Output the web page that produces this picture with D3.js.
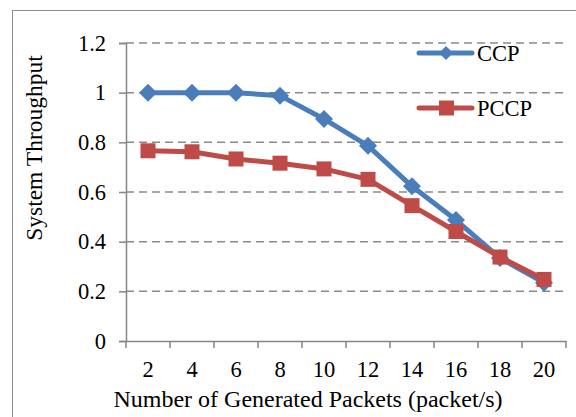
<!DOCTYPE html>
<html><head><meta charset="utf-8">
<script src="https://cdn.jsdelivr.net/npm/d3@7"></script>
<style>
html,body{margin:0;padding:0;background:#fff;}
svg{display:block;}
svg text{font-family:"Liberation Serif","Times New Roman",serif !important;fill:#000;}
</style></head>
<body>
<svg id="c" width="576" height="417"></svg>
<script>
const categories = [2,4,6,8,10,12,14,16,18,20];
const ccp  = [1.0,1.0,1.0,0.988,0.894,0.786,0.623,0.487,0.334,0.235];
const pccp = [0.766,0.762,0.733,0.716,0.693,0.651,0.545,0.441,0.338,0.248];
const yTicks = [0,0.2,0.4,0.6,0.8,1,1.2];
const seriesNames = ["CCP","PCCP"];
const colors = ["#4A7EBB","#BE4B48"];

const svg = d3.select("#c");
const L=126, R=566, T=43, B=341;

// outer frame
svg.append("rect").attr("x",12.5).attr("y",10.5).attr("width",600).attr("height",420)
  .attr("fill","none").attr("stroke","#8c8c8c").attr("stroke-width",1);

const x = d3.scaleBand().domain(categories).range([L,R]);
const y = d3.scaleLinear().domain([0,1.2]).range([B,T]);

// gridlines
svg.append("g").selectAll("line").data(yTicks.filter(d=>d>0)).join("line")
  .attr("x1",L).attr("x2",R).attr("y1",d=>y(d)).attr("y2",d=>y(d))
  .attr("stroke","#8a8a8a").attr("stroke-width",1.5).attr("stroke-dasharray","8,5");

// y axis
const ya = svg.append("g").attr("transform",`translate(${L},0)`)
  .call(d3.axisLeft(y).tickValues(yTicks).tickFormat(d=>String(d)).tickSize(7).tickPadding(13));
ya.select(".domain").attr("stroke","#868686").attr("stroke-width",1.5);
ya.selectAll(".tick line").attr("stroke","#868686").attr("stroke-width",1.5);
ya.selectAll("text").style("font-size","22.5px");

// x axis
const xa = svg.append("g").attr("transform",`translate(0,${B})`)
  .call(d3.axisBottom(x).tickSize(0).tickPadding(20));
xa.select(".domain").attr("stroke","#868686").attr("stroke-width",1.5);
xa.selectAll("text").style("font-size","22.5px");
// category boundary ticks
svg.append("g").selectAll("line").data(d3.range(categories.length+1)).join("line")
  .attr("x1",i=>L+i*x.step()).attr("x2",i=>L+i*x.step())
  .attr("y1",B).attr("y2",B+7).attr("stroke","#868686").attr("stroke-width",1.5);

// axis titles
svg.append("text").attr("transform",`translate(42,148) rotate(-90)`)
  .attr("text-anchor","middle").style("font-size","23.5px").text("System Throughput");
svg.append("text").attr("x",308).attr("y",407).attr("text-anchor","middle")
  .style("font-size","24px").text("Number of Generated Packets (packet/s)");

const cx = d=>x(d)+x.bandwidth()/2;
const data = [ccp,pccp];
const line = d3.line().x((d,i)=>cx(categories[i])).y(d=>y(d));

data.forEach((vals,s)=>{
  svg.append("path").datum(vals).attr("d",line).attr("fill","none")
    .attr("stroke",colors[s]).attr("stroke-width",5).attr("stroke-linejoin","round");
});
// markers
const diamond = (px,py,r)=>`M${px},${py-r}L${px+r},${py}L${px},${py+r}L${px-r},${py}Z`;
svg.append("g").selectAll("path").data(ccp).join("path")
  .attr("d",(d,i)=>diamond(cx(categories[i]),y(d),9)).attr("fill",colors[0]);
svg.append("g").selectAll("rect").data(pccp).join("rect")
  .attr("x",(d,i)=>cx(categories[i])-7.5).attr("y",d=>y(d)-7.5)
  .attr("width",15).attr("height",15).attr("fill",colors[1]);

// legend
const leg = [{n:seriesNames[0],y:53,c:colors[0],m:"d"},{n:seriesNames[1],y:108,c:colors[1],m:"s"}];
leg.forEach(l=>{
  svg.append("line").attr("x1",419).attr("x2",472).attr("y1",l.y).attr("y2",l.y)
    .attr("stroke",l.c).attr("stroke-width",5).attr("stroke-linecap","round");
  if(l.m==="d") svg.append("path").attr("d",diamond(446,l.y,7)).attr("fill",l.c);
  else svg.append("rect").attr("x",439).attr("y",l.y-7.5).attr("width",15).attr("height",15).attr("fill",l.c);
  svg.append("text").attr("x",477).attr("y",l.y+8).style("font-size","22.5px").text(l.n);
});
</script>
</body></html>
